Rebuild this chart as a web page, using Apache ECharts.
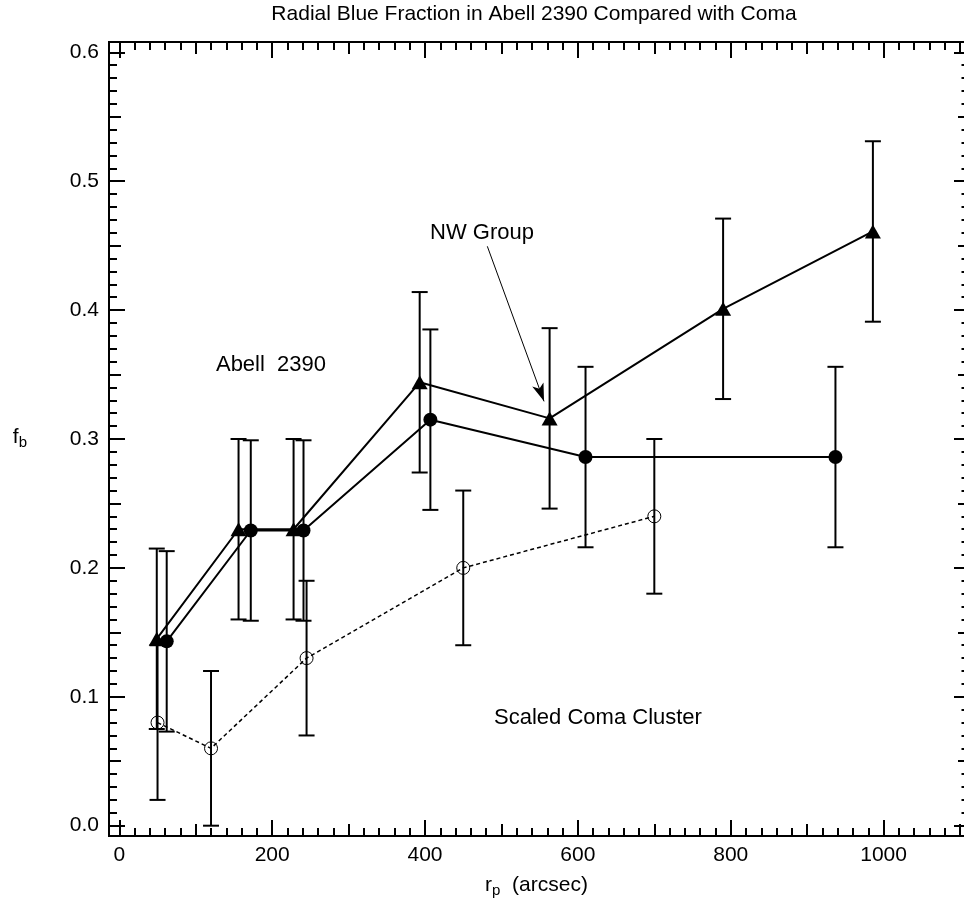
<!DOCTYPE html>
<html>
<head>
<meta charset="utf-8">
<script src="https://cdn.jsdelivr.net/npm/echarts@6/dist/echarts.min.js"></script>
<style>html,body{margin:0;padding:0;background:#fff;}#chart{width:964px;height:906px;}</style>
</head>
<body>
<div id="chart"></div>
<script>
// ---- data ----
const triX   = [49, 156, 228, 393, 563, 790, 986];
const triY   = [0.145, 0.230, 0.230, 0.344, 0.316, 0.401, 0.461];
const triErr = [0.07, 0.07, 0.07, 0.07, 0.07, 0.07, 0.07];

const circX   = [62, 172, 241, 407, 610, 937];
const circY   = [0.143, 0.229, 0.229, 0.315, 0.286, 0.286];
const circErr = [0.07, 0.07, 0.07, 0.07, 0.07, 0.07];

const comaX   = [50, 120, 245, 450, 700];
const comaY   = [0.080, 0.060, 0.130, 0.200, 0.240];
const comaErr = [0.06, 0.06, 0.06, 0.06, 0.06];

const xMajorTicks = [0, 200, 400, 600, 800, 1000];
const yMajorTicks = [0.0, 0.1, 0.2, 0.3, 0.4, 0.5, 0.6];

const arrowFrom = [481.5, 0.4495];
const arrowTo   = [555.7, 0.3292];

const titleText = 'Radial Blue Fraction in Abell 2390 Compared with Coma';
const labelAbell = 'Abell  2390';
const labelComa = 'Scaled Coma Cluster';
const labelNW = 'NW Group';

// ---- tick sets ----
const xMedTicks = [], xMinTicks = [];
for (let v = 0; v <= 1100; v += 20) {
  if (v % 200 === 0) continue;
  if (v % 100 === 0) xMedTicks.push(v); else xMinTicks.push(v);
}
const yMedTicks = [], yMinTicks = [];
for (let k = 0; k <= 60; k++) {
  if (k % 10 === 0) continue;
  const v = +(k / 100).toFixed(2);
  if (k % 5 === 0) yMedTicks.push(v); else yMinTicks.push(v);
}

const FONT = 'Liberation Sans, Arial, Helvetica, sans-serif';
const FS = 21;
const FS_NOTE = 22;
const XMIN = -13.5, XMAX = 1105.2, YMIN = -0.008, YMAX = 0.608;

function mkAxis(kind, pos, values, len, withLabels, showLine) {
  const a = {
    type: 'value', position: pos,
    min: kind === 'x' ? XMIN : YMIN,
    max: kind === 'x' ? XMAX : YMAX,
    axisLine: { show: showLine !== false, onZero: false, lineStyle: { color: '#000', width: 2 } },
    axisTick: { show: true, inside: true, length: len, customValues: values,
                lineStyle: { color: '#000', width: 2 } },
    splitLine: { show: false },
    axisLabel: { show: false }
  };
  if (withLabels) {
    a.axisLabel = {
      show: true, customValues: values, color: '#000', fontSize: FS, fontFamily: FONT,
      margin: kind === 'x' ? 9 : 10,
      formatter: kind === 'x' ? (v => String(Math.round(v))) : (v => v.toFixed(1))
    };
  }
  return a;
}

const xAxes = [
  mkAxis('x', 'bottom', xMajorTicks, 16, true),
  mkAxis('x', 'bottom', xMedTicks, 12, false),
  mkAxis('x', 'bottom', xMinTicks, 8, false),
  mkAxis('x', 'top', xMajorTicks, 16, false),
  mkAxis('x', 'top', xMedTicks, 12, false),
  mkAxis('x', 'top', xMinTicks, 8, false)
];
xAxes[0].name = '{a|r}{b|p}{a|  (arcsec)}';
xAxes[0].nameLocation = 'middle';
xAxes[0].nameGap = 40;
xAxes[0].nameTextStyle = {
  rich: {
    a: { fontSize: FS, fontFamily: FONT, color: '#000', lineHeight: 22, padding: [0, 0, 4, 0] },
    b: { fontSize: 15, fontFamily: FONT, color: '#000', lineHeight: 15, verticalAlign: 'bottom' }
  }
};

// the right-hand frame of the original lies just past the picture edge,
// so only the inner ends of its ticks are visible
const yAxes = [
  mkAxis('y', 'left', yMajorTicks, 16, true),
  mkAxis('y', 'left', yMedTicks, 12, false),
  mkAxis('y', 'left', yMinTicks, 8, false),
  mkAxis('y', 'right', yMajorTicks, 10, false, false),
  mkAxis('y', 'right', yMedTicks, 6, false, false),
  mkAxis('y', 'right', yMinTicks, 2.5, false, false)
];
yAxes[0].name = '{a|f}{b|b}';
yAxes[0].nameLocation = 'middle';
yAxes[0].nameRotate = 0;
yAxes[0].nameGap = 82;
yAxes[0].nameTextStyle = {
  rich: {
    a: { fontSize: FS, fontFamily: FONT, color: '#000', lineHeight: 22, padding: [0, 0, 4, 0] },
    b: { fontSize: 15, fontFamily: FONT, color: '#000', lineHeight: 15, verticalAlign: 'bottom' }
  }
};

function errData(xs, ys, es) {
  return xs.map((x, i) => [x, ys[i] - es[i], ys[i] + es[i]]);
}
function errSeries(name, data, width) {
  return {
    name: name, type: 'custom', xAxisIndex: 0, yAxisIndex: 0, clip: false, silent: true, z: 2,
    data: data,
    renderItem: function (params, api) {
      const lo = api.coord([api.value(0), api.value(1)]);
      const hi = api.coord([api.value(0), api.value(2)]);
      const cw = 8;
      const st = { stroke: '#000', lineWidth: width };
      return {
        type: 'group',
        children: [
          { type: 'line', shape: { x1: lo[0], y1: lo[1], x2: hi[0], y2: hi[1] }, style: st },
          { type: 'line', shape: { x1: lo[0] - cw, y1: lo[1], x2: lo[0] + cw, y2: lo[1] }, style: st },
          { type: 'line', shape: { x1: hi[0] - cw, y1: hi[1], x2: hi[0] + cw, y2: hi[1] }, style: st }
        ]
      };
    }
  };
}

const series = [
  errSeries('triErr', errData(triX, triY, triErr), 2),
  errSeries('circErr', errData(circX, circY, circErr), 2),
  errSeries('comaErr', errData(comaX, comaY, comaErr), 2),
  {
    name: 'coma', type: 'line', z: 3, silent: true,
    data: comaX.map((x, i) => [x, comaY[i]]),
    symbol: 'circle', symbolSize: 13, showAllSymbol: true,
    lineStyle: { color: '#000', width: 1.5, type: [4, 3] },
    itemStyle: { color: 'rgba(0,0,0,0)', borderColor: '#000', borderWidth: 1 },
    emphasis: { disabled: true }
  },
  {
    name: 'circ', type: 'line', z: 4, silent: true,
    data: circX.map((x, i) => [x, circY[i]]),
    symbol: 'circle', symbolSize: 14, showAllSymbol: true,
    lineStyle: { color: '#000', width: 2 },
    itemStyle: { color: '#000', borderWidth: 0 },
    emphasis: { disabled: true }
  },
  {
    name: 'tri', type: 'line', z: 4, silent: true,
    data: triX.map((x, i) => [x, triY[i]]),
    symbol: 'triangle', symbolSize: [16, 14], showAllSymbol: true,
    lineStyle: { color: '#000', width: 2 },
    itemStyle: { color: '#000', borderWidth: 0 },
    emphasis: { disabled: true },
    markLine: {
      silent: true, animation: false,
      symbol: ['none', 'arrow'], symbolSize: [9, 18],
      label: { show: false },
      lineStyle: { color: '#000', width: 1, type: 'solid' },
      emphasis: { disabled: true },
      data: [[{ coord: arrowFrom }, { coord: arrowTo }]]
    }
  }
];

const textStyle = (s, fs) => ({ text: s, fill: '#000', font: fs + 'px ' + FONT, textAlign: 'center', textVerticalAlign: 'middle' });

const option = {
  animation: false,
  backgroundColor: '#fff',
  grid: { left: 109, top: 42, width: 855, height: 794, containLabel: false },
  xAxis: xAxes,
  yAxis: yAxes,
  series: series,
  graphic: [
    { type: 'text', x: 534, y: 14, style: textStyle(titleText, FS) },
    { type: 'text', x: 271, y: 365, style: textStyle(labelAbell, FS_NOTE) },
    { type: 'text', x: 598, y: 718, style: textStyle(labelComa, FS_NOTE) },
    { type: 'text', x: 482, y: 233, style: textStyle(labelNW, FS_NOTE) }
  ]
};

const chart = echarts.init(document.getElementById('chart'), null, { renderer: 'canvas' });
chart.setOption(option);
</script>
</body>
</html>
